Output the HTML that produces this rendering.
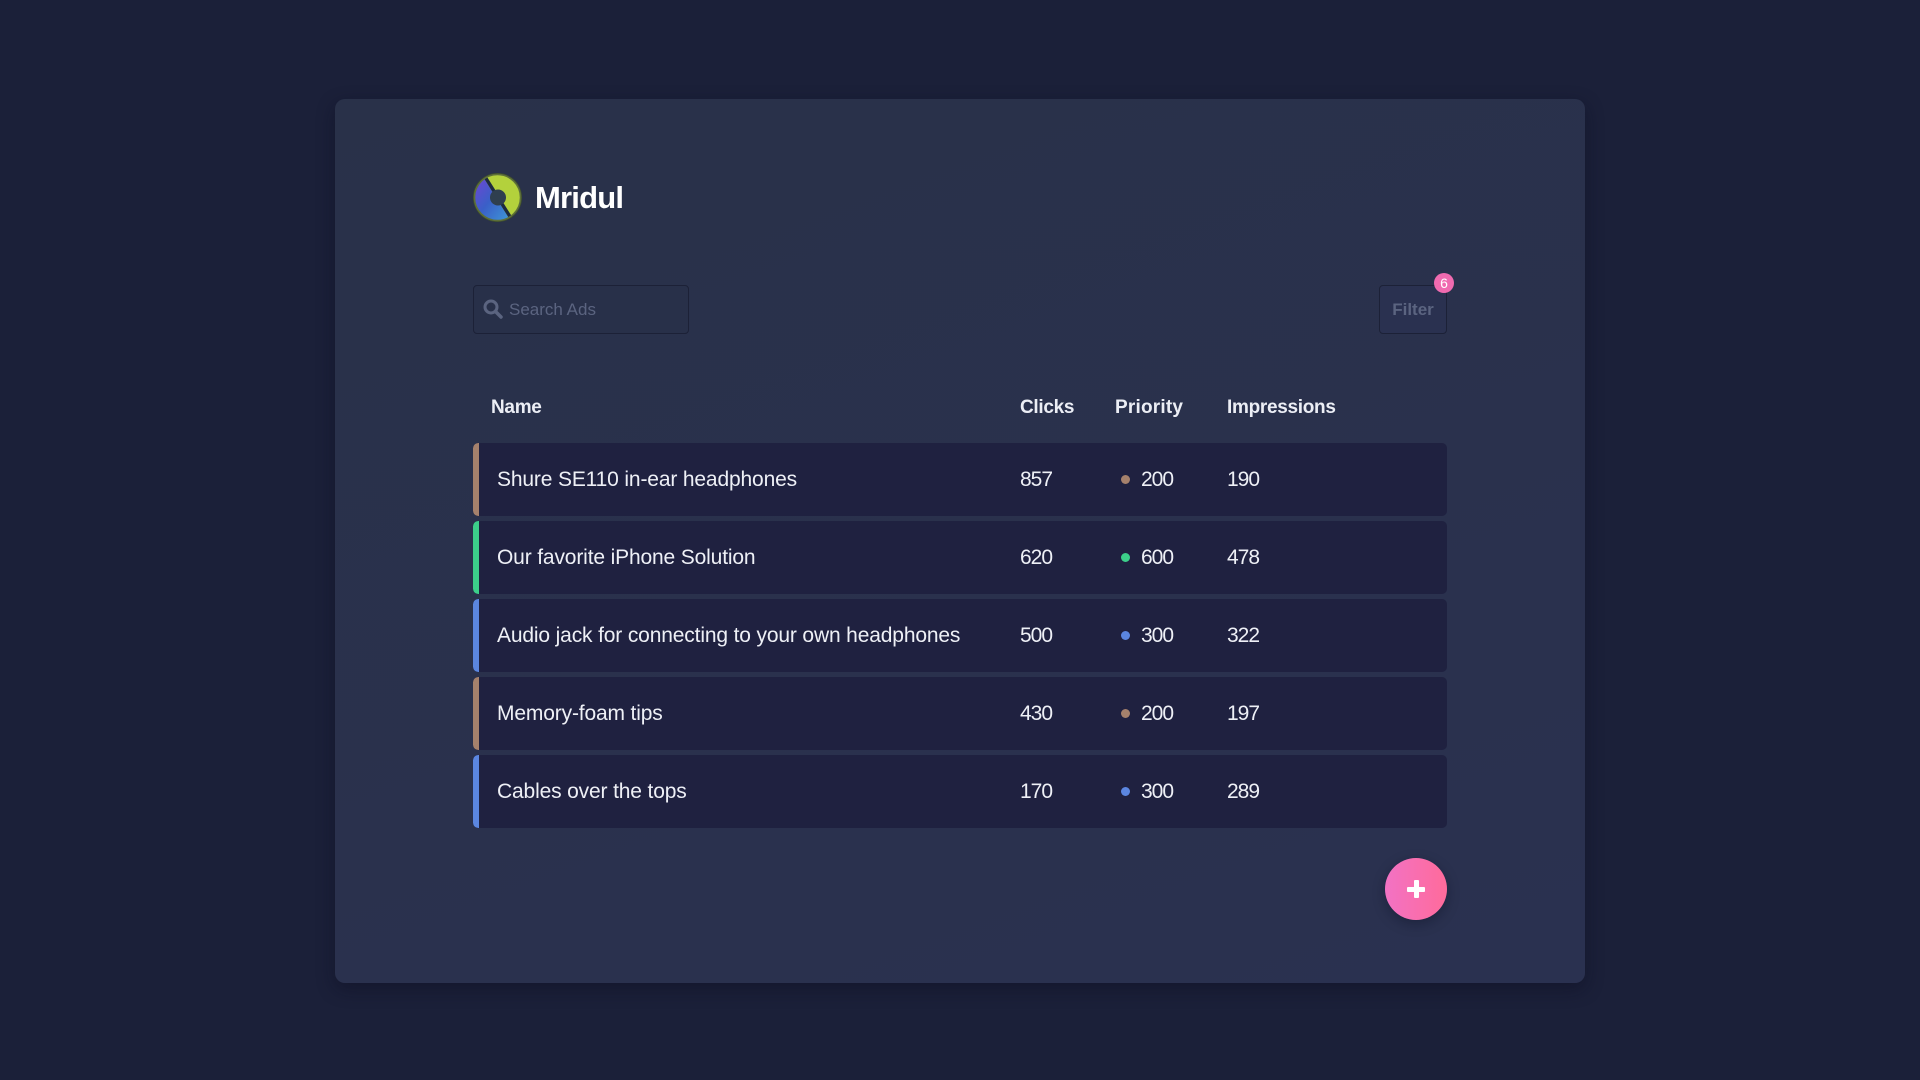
<!DOCTYPE html>
<html>
<head>
<meta charset="utf-8">
<style>
  html, body { margin: 0; padding: 0; }
  body {
    width: 1920px; height: 1080px; overflow: hidden;
    background: #1b2039;
    font-family: "Liberation Sans", sans-serif;
    position: relative;
  }
  .card {
    position: absolute; left: 335px; top: 99px; width: 1250px; height: 884px;
    background: linear-gradient(160deg, #293149 0%, #2a3150 100%);
    border-radius: 10px;
    box-shadow: 0 6px 18px rgba(10,12,30,0.45);
  }
  .abs { position: absolute; }
  .brand {
    left: 535px; top: 176px; height: 44px; line-height: 44px;
    font-size: 31px; font-weight: bold; color: #ffffff; letter-spacing: -0.8px;
  }
  .search {
    left: 473px; top: 285px; width: 214px; height: 47px;
    border: 1px solid #1c2137; border-radius: 4px;
    background: #283049;
  }
  .search .ph {
    position: absolute; left: 35px; top: 0; line-height: 47px;
    font-size: 17px; color: #5b6480;
  }
  .filter {
    left: 1379px; top: 285px; width: 66px; height: 47px;
    border: 1px solid #1c2137; border-radius: 4px;
    background: #2a3150;
    text-align: center; line-height: 47px;
    font-size: 17px; font-weight: bold; color: #5b6480;
  }
  .badge {
    left: 1434px; top: 273px; width: 20px; height: 20px; border-radius: 50%;
    background: #f06bb0; color: #fff; font-size: 14px; text-align: center; line-height: 20px;
  }
  .hdr {
    top: 393px; height: 30px; line-height: 30px;
    font-size: 19px; font-weight: bold; color: #eceef5; letter-spacing: -0.3px;
  }
  .row {
    position: absolute; left: 473px; width: 974px; height: 73px;
    background: #1f2140; border-radius: 5px; overflow: hidden;
  }
  .row .bar { position: absolute; left: 0; top: 0; width: 6px; height: 73px; border-radius: 5px 0 0 5px; }
  .row .t {
    position: absolute; top: 0; line-height: 73px; font-size: 21px; color: #eef0f6; letter-spacing: -0.15px;
  }
  .row .n { letter-spacing: -1px; }
  .row .dot {
    position: absolute; top: 32px; width: 9px; height: 9px; border-radius: 50%;
  }
  .fab {
    left: 1385px; top: 858px; width: 62px; height: 62px; border-radius: 50%;
    background: linear-gradient(90deg, #f272c4 0%, #ff6b9b 100%);
    box-shadow: 0 4px 12px rgba(10,12,30,0.35);
  }
  .fab .h { position: absolute; left: 22px; top: 29px; width: 18px; height: 5px; background: #fff; border-radius: 1px; }
  .fab .v { position: absolute; left: 28.5px; top: 22px; width: 5px; height: 18px; background: #fff; border-radius: 1px; }
</style>
</head>
<body>
  <div class="card"></div>

  <!-- logo -->
  <svg class="abs" style="left:472px;top:172px" width="51" height="51" viewBox="0 0 51 51">
    <defs>
      <linearGradient id="bl" x1="0" y1="0" x2="1" y2="1">
        <stop offset="0" stop-color="#7b3fd6"/>
        <stop offset="0.5" stop-color="#3a5fc8"/>
        <stop offset="1" stop-color="#3f9fd8"/>
      </linearGradient>
      <clipPath id="cc"><circle cx="25.5" cy="25.5" r="23"/></clipPath>
    </defs>
    <circle cx="25.5" cy="25.5" r="24.5" fill="#3f4f2c"/>
    <circle cx="25.5" cy="25.5" r="23" fill="#b3d13c"/>
    <g clip-path="url(#cc)">
      <polygon points="8,0 40,51 0,51 0,0" fill="url(#bl)"/>
      <polygon points="8,0 12,0 44,51 40,51" fill="#1d2a40"/>
    </g>
    <circle cx="26" cy="25.5" r="8" fill="#2f3f4f"/>
    <circle cx="25.5" cy="25.5" r="23" fill="none" stroke="#5d6f3a" stroke-width="1.5"/>
  </svg>
  <div class="abs brand">Mridul</div>

  <!-- search -->
  <div class="abs search">
    <svg style="position:absolute;left:9px;top:13px" width="20" height="20" viewBox="0 0 20 20">
      <circle cx="8" cy="8" r="6" fill="none" stroke="#5b6480" stroke-width="3"/>
      <line x1="12.5" y1="12.5" x2="18" y2="18" stroke="#5b6480" stroke-width="3.5" stroke-linecap="round"/>
    </svg>
    <span class="ph">Search Ads</span>
  </div>

  <!-- filter -->
  <div class="abs filter">Filter</div>
  <div class="abs badge">6</div>

  <!-- header -->
  <div class="abs hdr" style="left:491px">Name</div>
  <div class="abs hdr" style="left:1020px">Clicks</div>
  <div class="abs hdr" style="left:1115px;letter-spacing:0.2px">Priority</div>
  <div class="abs hdr" style="left:1227px">Impressions</div>

  <!-- rows -->
  <div class="row" style="top:443px">
    <div class="bar" style="background:#a5816c"></div>
    <span class="t" style="left:24px">Shure SE110 in-ear headphones</span>
    <span class="t n" style="left:547px">857</span>
    <span class="dot" style="left:648px;background:#a5816c"></span>
    <span class="t n" style="left:668px">200</span>
    <span class="t n" style="left:754px">190</span>
  </div>
  <div class="row" style="top:521px">
    <div class="bar" style="background:#3ccf8a"></div>
    <span class="t" style="left:24px">Our favorite iPhone Solution</span>
    <span class="t n" style="left:547px">620</span>
    <span class="dot" style="left:648px;background:#3ccf8a"></span>
    <span class="t n" style="left:668px">600</span>
    <span class="t n" style="left:754px">478</span>
  </div>
  <div class="row" style="top:599px">
    <div class="bar" style="background:#5b86e0"></div>
    <span class="t" style="left:24px">Audio jack for connecting to your own headphones</span>
    <span class="t n" style="left:547px">500</span>
    <span class="dot" style="left:648px;background:#5b86e0"></span>
    <span class="t n" style="left:668px">300</span>
    <span class="t n" style="left:754px">322</span>
  </div>
  <div class="row" style="top:677px">
    <div class="bar" style="background:#a5816c"></div>
    <span class="t" style="left:24px">Memory-foam tips</span>
    <span class="t n" style="left:547px">430</span>
    <span class="dot" style="left:648px;background:#a5816c"></span>
    <span class="t n" style="left:668px">200</span>
    <span class="t n" style="left:754px">197</span>
  </div>
  <div class="row" style="top:755px">
    <div class="bar" style="background:#5b86e0"></div>
    <span class="t" style="left:24px">Cables over the tops</span>
    <span class="t n" style="left:547px">170</span>
    <span class="dot" style="left:648px;background:#5b86e0"></span>
    <span class="t n" style="left:668px">300</span>
    <span class="t n" style="left:754px">289</span>
  </div>

  <!-- FAB -->
  <div class="abs fab"><div class="h"></div><div class="v"></div></div>
</body>
</html>
